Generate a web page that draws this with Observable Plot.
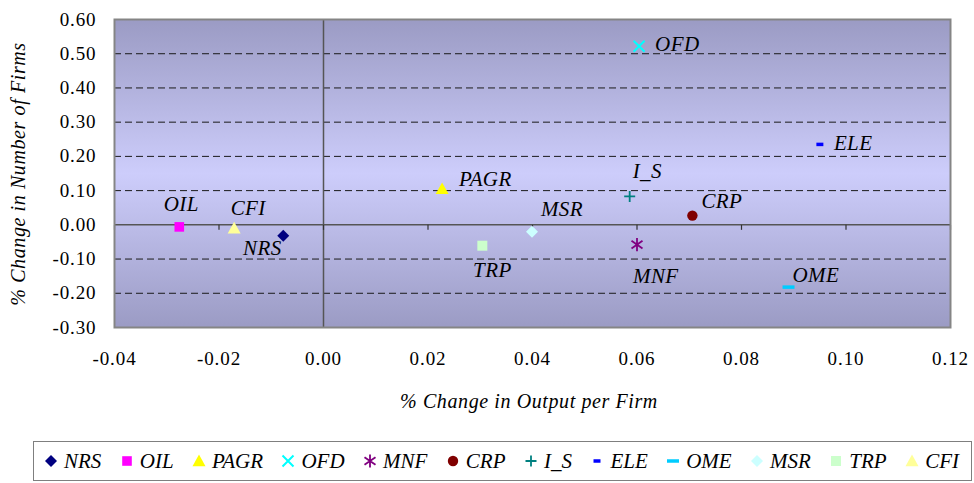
<!DOCTYPE html>
<html><head><meta charset="utf-8">
<script src="https://cdn.jsdelivr.net/npm/d3@7"></script>
<script src="https://cdn.jsdelivr.net/npm/@observablehq/plot@0.6"></script>
</head><body style="margin:0;background:#fff;font-family:'Liberation Serif', serif;">
<div id="wrap" style="position:relative;width:974px;height:483px;font-family:'Liberation Serif', serif;">
  <div id="chartHost" style="position:absolute;left:0;top:0;"></div>
  <div style="position:absolute;left:-132px;top:162px;width:300px;height:24px;line-height:24px;text-align:center;transform:rotate(-90deg);font-family:'Liberation Serif', serif;font-style:italic;font-size:20px;letter-spacing:0.6px;white-space:nowrap;">% Change in Number of Firms</div>
  <div style="position:absolute;left:329px;top:389px;width:400px;height:24px;line-height:24px;text-align:center;font-family:'Liberation Serif', serif;font-style:italic;font-size:20px;letter-spacing:0.6px;white-space:nowrap;">% Change in Output per Firm</div>
  <div id="legendHost"></div>
</div>
<script>
// ---- data ----
const sectors = ["NRS","OIL","PAGR","OFD","MNF","CRP","I_S","ELE","OME","MSR","TRP","CFI"];
const outputChange = [-0.0077,-0.0276,0.0227,0.0604,0.0600,0.0706,0.0586,0.0950,0.0890,0.0399,0.0304,-0.0171];
const firmsChange  = [-0.032,-0.006,0.105,0.522,-0.058,0.027,0.083,0.235,-0.182,-0.020,-0.061,-0.010];
const xTicks = [-0.04,-0.02,0,0.02,0.04,0.06,0.08,0.10,0.12];
const yTicks = [-0.30,-0.20,-0.10,0,0.10,0.20,0.30,0.40,0.50,0.60];
const gridLines = [-0.20,-0.10,0.10,0.20,0.30,0.40,0.50];

// ---- styles ----
const S = {
  diamond: r => ({draw(c){c.moveTo(0,-r);c.lineTo(r,0);c.lineTo(0,r);c.lineTo(-r,0);c.closePath();}}),
  square: r => ({draw(c){c.rect(-r,-r,2*r,2*r);}}),
  triangle: r => ({draw(c){c.moveTo(0,-r);c.lineTo(r,r*0.8);c.lineTo(-r,r*0.8);c.closePath();}}),
  times: r => ({draw(c){c.moveTo(-r,-r);c.lineTo(r,r);c.moveTo(r,-r);c.lineTo(-r,r);}}),
  star: r => ({draw(c){c.moveTo(-r,-r*0.7);c.lineTo(r,r*0.7);c.moveTo(r,-r*0.7);c.lineTo(-r,r*0.7);c.moveTo(0,-r*1.2);c.lineTo(0,r*1.2);}}),
  circle: r => ({draw(c){c.moveTo(r,0);c.arc(0,0,r,0,2*Math.PI);}}),
  plus: r => ({draw(c){c.moveTo(-r,0);c.lineTo(r,0);c.moveTo(0,-r);c.lineTo(0,r);}}),
  dash: (w,h) => ({draw(c){c.rect(-w/2,-h/2,w,h);}}),
  tick: h => ({draw(c){c.moveTo(0,0);c.lineTo(0,h);}})
};
const look = {
  NRS: {sym:S.diamond(6), fill:"#000080"},
  OIL: {sym:S.square(4.8), fill:"#FF00FF"},
  PAGR:{sym:S.triangle(6.5), fill:"#FFFF00"},
  OFD: {sym:S.times(5.5), stroke:"#00FFFF", sw:2},
  MNF: {sym:S.star(5.5), stroke:"#800080", sw:1.8},
  CRP: {sym:S.circle(5.2), fill:"#800000"},
  I_S: {sym:S.plus(5.5), stroke:"#008080", sw:1.8},
  ELE: {sym:S.dash(7,3.5), fill:"#0000FF"},
  OME: {sym:S.dash(12,3.5), fill:"#00CCFF"},
  MSR: {sym:S.diamond(6), fill:"#CCFFFF"},
  TRP: {sym:S.square(5), fill:"#CCFFCC"},
  CFI: {sym:S.triangle(6.5), fill:"#FFFF99"}
};
const labelPos = {
  NRS:{dx:-21,dy:12,a:"middle"}, OIL:{dx:2,dy:-23,a:"middle"}, PAGR:{dx:17,dy:-10,a:"start"},
  OFD:{dx:16,dy:-2,a:"start"}, MNF:{dx:-4,dy:32,a:"start"}, CRP:{dx:9,dy:-14,a:"start"},
  I_S:{dx:3,dy:-25,a:"start"}, ELE:{dx:14,dy:-1.5,a:"start"}, OME:{dx:4,dy:-12,a:"start"},
  MSR:{dx:9,dy:-22,a:"start"}, TRP:{dx:10,dy:25,a:"middle"}, CFI:{dx:14,dy:-20,a:"middle"}
};

const rows = sectors.map((s,i)=>({sector:s, x:outputChange[i], y:firmsChange[i]}));
const fmt = d => d.toFixed(2);
const FONT = "'Liberation Serif', serif";

function draw() {
  const host = document.getElementById("chartHost");
  host.innerHTML = "";
  const pointMarks = rows.map(r => {
    const L = look[r.sector];
    return Plot.dot([r], {x:"x", y:"y", symbol:L.sym, r:5,
      fill: L.fill || "none", stroke: L.stroke || "none", strokeWidth: L.sw || 0});
  });
  const labelMarks = rows.map(r => {
    const p = labelPos[r.sector];
    return Plot.text([r], {x:"x", y:"y", text:"sector", dx:p.dx, dy:p.dy, textAnchor:p.a,
      fontSize:21, fontStyle:"italic", fontFamily:"Liberation Serif", fill:"#000"});
  });
  const chart = Plot.plot({
    width:974, height:441,
    marginLeft:114, marginRight:24, marginTop:19, marginBottom:114,
    x:{domain:[-0.04,0.12]},
    y:{domain:[-0.3,0.6]},
    style:{fontFamily:"Liberation Serif", fontSize:"19px", background:"transparent", color:"#000"},
    marks:[
      Plot.frame({fill:"url(#bgGrad)"}),
      Plot.ruleY(gridLines, {stroke:"#1a1a1a", strokeDasharray:"7,4", strokeWidth:1}),
      Plot.ruleX([0], {stroke:"#555", strokeWidth:1.5}),
      Plot.ruleY([0], {stroke:"#555", strokeWidth:1.5}),
      Plot.dot(xTicks, {x:d=>d, y:()=>0, symbol:S.tick(5), stroke:"#333", strokeWidth:1.2, fill:"none"}),
      Plot.frame({stroke:"#858585", strokeWidth:2}),
      Plot.axisY(yTicks, {tickSize:0, tickPadding:18, tickFormat:fmt, fontSize:19, fontFamily:"Liberation Serif", label:null}),
      Plot.axisX(xTicks, {anchor:"bottom", tickSize:0, tickPadding:24, tickFormat:fmt, fontSize:19, fontFamily:"Liberation Serif", label:null}),
      ...pointMarks,
      ...labelMarks
    ]
  });
  d3.select(chart).selectAll("text").attr("font-family", FONT).style("font-family", FONT);
  d3.select(chart).selectAll('g[aria-label="x-axis tick label"] text, g[aria-label="y-axis tick label"] text')
    .style("letter-spacing", "0.9px");
  d3.select(chart).selectAll('g[aria-label="text"] text').style("letter-spacing", "0.4px");
  const defs = d3.select(chart).insert("defs", ":first-child");
  const lg = defs.append("linearGradient").attr("id","bgGrad").attr("x1",0).attr("y1",0).attr("x2",0).attr("y2",1);
  lg.append("stop").attr("offset","0%").attr("stop-color","#9b9bc4");
  lg.append("stop").attr("offset","50%").attr("stop-color","#cdcdfb");
  lg.append("stop").attr("offset","100%").attr("stop-color","#9b9bc4");
  host.appendChild(chart);

  const lhost = document.getElementById("legendHost");
  lhost.innerHTML = "";
  const legend = d3.select(lhost).append("div")
    .style("position","absolute").style("left","33px").style("top","441px")
    .style("width","939px").style("height","40px").style("border","1px solid #7f7f7f")
    .style("display","flex").style("align-items","center").style("justify-content","space-between")
    .style("padding","0 12px 0 10px").style("box-sizing","border-box")
    .style("font-family", FONT).style("font-style","italic").style("font-size","21px").style("color","#000");
  for (const s of sectors) {
    const L = look[s];
    const it = legend.append("div").style("display","flex").style("align-items","center");
    const sv = it.append("svg").attr("width",14).attr("height",16).style("margin-right","6px");
    const p = d3.path(); L.sym.draw(p);
    sv.append("path").attr("transform","translate(7,8)").attr("d", p.toString())
      .attr("fill", L.fill || "none").attr("stroke", L.stroke || "none").attr("stroke-width", L.sw || 0);
    it.append("span").style("font-family", FONT).style("font-style","italic").text(s);
  }
}
draw();
if (document.fonts && document.fonts.load) {
  Promise.all([
    document.fonts.load("19px 'Liberation Serif'"),
    document.fonts.load("italic 21px 'Liberation Serif'")
  ]).then(draw, ()=>{});
}
</script></body></html>
